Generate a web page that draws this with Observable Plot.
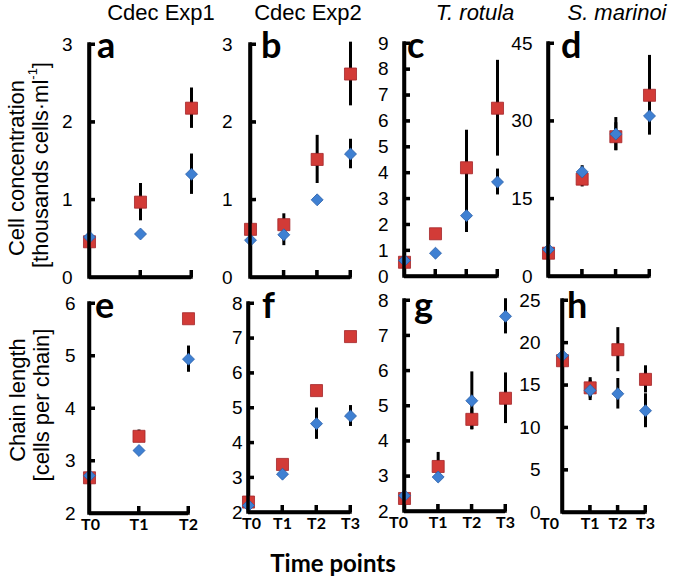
<!DOCTYPE html>
<html><head><meta charset="utf-8">
<script src="https://cdn.jsdelivr.net/npm/d3@7"></script>
<script src="https://cdn.jsdelivr.net/npm/@observablehq/plot@0.6"></script>
<style>
body{margin:0;background:#fff}
#chart{position:relative;width:675px;height:581px;overflow:hidden;background:#fff}
#chart svg{position:absolute;left:0;top:0}
</style></head><body><div id="chart"></div>
<script>
// ---- data ----
const timeLabels = ["T0", "T1", "T2", "T3"];
const colTitles = ["Cdec Exp1", "Cdec Exp2", "T. rotula", "S. marinoi"];
const panelLetters = ["a", "b", "c", "d", "e", "f", "g", "h"];

// a: Cdec Exp1, cell concentration
const aRed = [0.46, 0.97, 2.18];
const aRedErr = [0.03, 0.24, 0.26];
const aBlue = [0.52, 0.56, 1.33];
const aBlueErr = [0.02, 0.03, 0.26];
const aTicks = [0, 1, 2, 3];
// b: Cdec Exp2
const bRed = [0.62, 0.68, 1.52, 2.62];
const bRedErr = [0.03, 0.14, 0.31, 0.41];
const bBlue = [0.48, 0.55, 1.00, 1.59];
const bBlueErr = [0.03, 0.14, 0.05, 0.19];
const bTicks = [0, 1, 2, 3];
// c: T. rotula
const cRed = [0.55, 1.65, 4.2, 6.5];
const cRedErr = [0.1, 0.2, 1.45, 1.85];
const cBlue = [0.62, 0.9, 2.35, 3.65];
const cBlueErr = [0.1, 0.1, 0.65, 0.5];
const cTicks = [0, 1, 2, 3, 4, 5, 6, 7, 8, 9];
// d: S. marinoi
const dRed = [4.5, 18.8, 27, 35];
const dRedErr = [0.5, 1.5, 2.7, 7.7];
const dBlue = [5.2, 20.2, 27.5, 31];
const dBlueErr = [0.5, 1.2, 3.2, 3.2];
const dTicks = [0, 15, 30, 45];
// e: Cdec Exp1, chain length
const eRed = [2.68, 3.47, 5.71];
const eRedErr = [0.03, 0.12, 0.1];
const eBlue = [2.72, 3.2, 4.94];
const eBlueErr = [0.03, 0.05, 0.25];
const eTicks = [2, 3, 4, 5, 6];
// f: Cdec Exp2
const fRed = [2.3, 3.38, 5.5, 7.05];
const fRedErr = [0.05, 0.08, 0.05, 0.05];
const fBlue = [2.2, 3.1, 4.55, 4.77];
const fBlueErr = [0.05, 0.07, 0.45, 0.3];
const fTicks = [2, 3, 4, 5, 6, 7, 8];
// g: T. rotula
const gRed = [2.37, 3.28, 4.62, 5.22];
const gRedErr = [0.05, 0.4, 0.3, 0.72];
const gBlue = [2.45, 2.98, 5.15, 7.55];
const gBlueErr = [0.05, 0.05, 0.82, 0.5];
const gTicks = [2, 3, 4, 5, 6, 7, 8];
// h: S. marinoi
const hRed = [17.9, 14.7, 19.2, 15.7];
const hRedErr = [0.3, 1.2, 2.6, 1.6];
const hBlue = [18.5, 14.4, 14.0, 12.0];
const hBlueErr = [0.3, 1.2, 1.8, 2.0];
const hTicks = [0, 5, 10, 15, 20, 25];

// ---- layout (pixels) ----
const W = 675, H = 581;
const panels = [
  {red: aRed, redErr: aRedErr, blue: aBlue, blueErr: aBlueErr, ticks: aTicks, left: 89, right: 191, top: 44, bottom: 277, pad: 17, xLabels: false},
  {red: bRed, redErr: bRedErr, blue: bBlue, blueErr: bBlueErr, ticks: bTicks, left: 250, right: 350, top: 44, bottom: 277, pad: 18, xLabels: false},
  {red: cRed, redErr: cRedErr, blue: cBlue, blueErr: cBlueErr, ticks: cTicks, left: 404, right: 497, top: 43, bottom: 276, pad: 16, xLabels: false},
  {red: dRed, redErr: dRedErr, blue: dBlue, blueErr: dBlueErr, ticks: dTicks, left: 548, right: 649, top: 43, bottom: 276, pad: 16, xLabels: false},
  {red: eRed, redErr: eRedErr, blue: eBlue, blueErr: eBlueErr, ticks: eTicks, left: 89, right: 188, top: 303, bottom: 513, pad: 14, xLabels: true, t0dx: 1},
  {red: fRed, redErr: fRedErr, blue: fBlue, blueErr: fBlueErr, ticks: fTicks, left: 248, right: 350, top: 303, bottom: 512, pad: 6, xLabels: true, t0dx: 3},
  {red: gRed, redErr: gRedErr, blue: gBlue, blueErr: gBlueErr, ticks: gTicks, left: 404, right: 505, top: 300, bottom: 511, pad: 16, xLabels: true, t0dx: -6},
  {red: hRed, redErr: hRedErr, blue: hBlue, blueErr: hBlueErr, ticks: hTicks, left: 562, right: 645, top: 300, bottom: 512, pad: 22, xLabels: true, t0dx: -13}
];

const RED = "#d23b37", RED_EDGE = "#a3262a";
const BLUE = "#3f80d2", BLUE_EDGE = "#2a5ea8";
const chart = document.getElementById("chart");
const plots = [];

function makePanel(p) {
  const n = p.red.length;
  const idx = d3.range(n);
  const ymin = d3.min(p.ticks), ymax = d3.max(p.ticks);
  const fw = p.right - p.left, fh = p.bottom - p.top;
  const red = idx.map(i => ({i, v: p.red[i], lo: p.red[i] - p.redErr[i], hi: p.red[i] + p.redErr[i]}));
  const blue = idx.map(i => ({i, v: p.blue[i], lo: p.blue[i] - p.blueErr[i], hi: p.blue[i] + p.blueErr[i]}));
  const vAxis = [{x: 0, y1: ymax, y2: ymin}];
  const hAxis = [{y: ymin, x1: 0, x2: n - 1}];
  const yTicks = p.ticks.filter(t => t !== ymin).map(t => ({y: t, x1: 0, x2: n - 1}));
  const xTicks = idx.slice(1).map(i => ({x: i, y1: ymax, y2: ymin}));
  const marks = [
    Plot.ruleX(red, {x: "i", y1: "lo", y2: "hi", stroke: "#000", strokeWidth: 3}),
    Plot.ruleX(blue, {x: "i", y1: "lo", y2: "hi", stroke: "#000", strokeWidth: 3}),
    Plot.ruleX(vAxis, {x: "x", y1: "y1", y2: "y2", stroke: "#000", strokeWidth: 3.5}),
    Plot.ruleY(hAxis, {y: "y", x1: "x1", x2: "x2", stroke: "#000", strokeWidth: 3.5}),
    Plot.ruleY(yTicks, {y: "y", x1: "x1", x2: "x2", insetRight: fw - 6, stroke: "#000", strokeWidth: 3}),
    Plot.ruleX(xTicks, {x: "x", y1: "y1", y2: "y2", insetTop: fh - 7, stroke: "#000", strokeWidth: 3}),
    Plot.text(p.ticks, {x: () => 0, y: d => d, text: d => String(d), textAnchor: "end", dx: -p.pad, fontSize: 19, fontFamily: "Liberation Sans, Arial, sans-serif", fill: "#000"}),
    Plot.dot(red, {x: "i", y: "v", symbol: "square", r: 6.8, fill: RED, stroke: RED_EDGE, strokeWidth: 0.8}),
    Plot.dot(blue, {x: "i", y: "v", symbol: "diamond2", r: 5.4, fill: BLUE, stroke: BLUE_EDGE, strokeWidth: 0.8})
  ];
  if (p.xLabels) {
    const txt = {y: () => ymin, text: i => timeLabels[i], lineAnchor: "top", dy: 5, fontSize: 16, fontWeight: "bold", fontFamily: "Lato, sans-serif", fill: "#000"};
    marks.push(Plot.text([0], {...txt, x: d => d, dx: p.t0dx}));
    marks.push(Plot.text(idx.slice(1), {...txt, x: d => d}));
  }
  const svg = Plot.plot({
    width: W, height: H,
    marginLeft: p.left, marginRight: W - p.right, marginTop: p.top, marginBottom: H - p.bottom,
    x: {domain: [0, n - 1], axis: null},
    y: {domain: [ymin, ymax], axis: null},
    style: {background: "transparent", overflow: "visible"},
    marks
  });
  chart.appendChild(svg);
  plots.push({svg, p, n, idx, ymin, ymax});
}
panels.forEach(makePanel);

// ---- overlay: axis frames (from each plot's own scales) and text ----
const ov = d3.select(chart).append("svg").attr("width", W).attr("height", H)
  .style("position", "absolute").style("left", 0).style("top", 0).style("overflow", "visible");

plots.forEach(({svg, p, n, idx, ymin, ymax}) => {
  const sx = svg.scale("x"), sy = svg.scale("y");
  const x0 = sx.apply(0), x1 = sx.apply(n - 1), y0 = sy.apply(ymin), y1 = sy.apply(ymax);
  const g = ov.append("g").attr("stroke", "#000").attr("fill", "none");
  g.append("path").attr("d", `M${x0},${y1}L${x0},${y0}L${x1},${y0}`)
    .attr("stroke-width", 3.5).attr("stroke-linecap", "square").attr("stroke-linejoin", "miter");
  p.ticks.filter(t => t !== ymin).forEach(t => {
    const yy = sy.apply(t);
    g.append("line").attr("x1", x0).attr("x2", x0 + 6).attr("y1", yy).attr("y2", yy).attr("stroke-width", 3);
  });
  idx.slice(1).forEach(i => {
    const xx = sx.apply(i);
    g.append("line").attr("x1", xx).attr("x2", xx).attr("y1", y0).attr("y2", y0 - 7).attr("stroke-width", 3);
  });
});

const titleX = [161, 308, 475, 617];
colTitles.forEach((t, k) => {
  ov.append("text").attr("x", titleX[k]).attr("y", 20).attr("text-anchor", "middle")
    .attr("font-family", "Liberation Sans, Arial, sans-serif").attr("font-size", 22)
    .attr("font-style", k >= 2 ? "italic" : "normal").text(t);
});

const letterPos = [[97, 58], [261, 58], [407, 58], [561, 58], [95, 318], [262, 318], [414, 318], [567, 318]];
panelLetters.forEach((l, k) => {
  ov.append("text").attr("x", letterPos[k][0]).attr("y", letterPos[k][1])
    .attr("font-family", "Lato, sans-serif").attr("font-weight", "bold").attr("font-size", 36).text(l);
});

function yLabel(x, y, parts) {
  const t = ov.append("text").attr("transform", `translate(${x},${y}) rotate(-90)`)
    .attr("text-anchor", "middle").attr("dominant-baseline", "central")
    .attr("font-family", "Liberation Sans, Arial, sans-serif").attr("font-size", 22);
  parts.forEach(([s, sup], j) => {
    const ts = t.append("tspan").text(s);
    if (sup) ts.attr("font-size", 13).attr("dy", -8);
    else if (j > 0) ts.attr("dy", 8);
  });
}
yLabel(16, 168, [["Cell concentration"]]);
yLabel(40, 165, [["[thousands cells·ml"], ["-1", true], ["]"]]);
yLabel(17, 400, [["Chain length"]]);
yLabel(41, 405, [["[cells per chain]"]]);

ov.append("text").attr("x", 333).attr("y", 572).attr("text-anchor", "middle")
  .attr("font-family", "Lato, sans-serif").attr("font-weight", "bold").attr("font-size", 24).text("Time points");
</script></body></html>
